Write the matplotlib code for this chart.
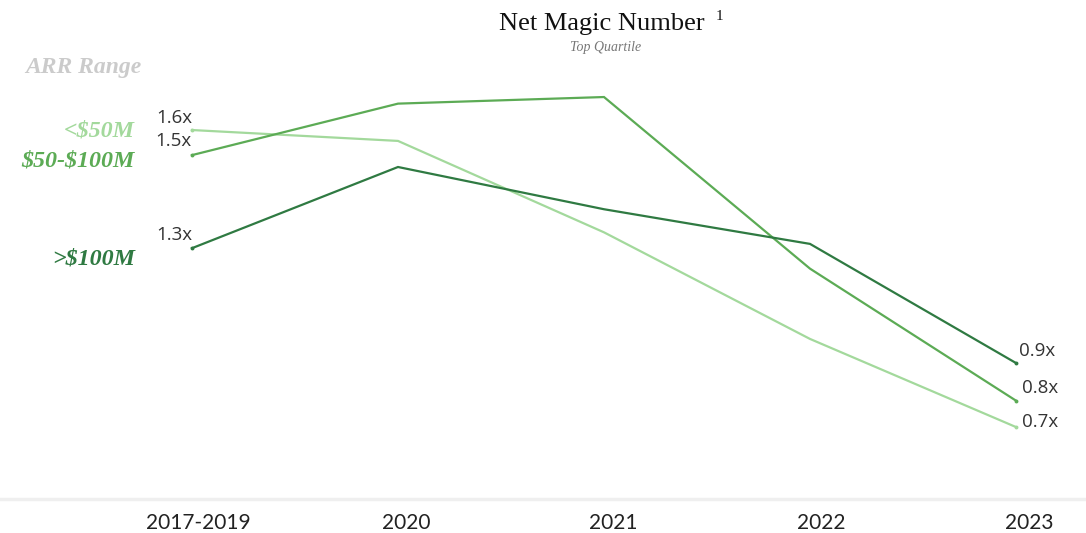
import matplotlib
matplotlib.use("Agg")
import matplotlib.pyplot as plt

# data
years = ["2017-2019", "2020", "2021", "2022", "2023"]
series_names = ["<$50M", "$50-$100M", ">$100M"]
small = [1.60, 1.567, 1.29, 0.967, 0.70]
mid = [1.524, 1.68, 1.70, 1.18, 0.78]
large = [1.242, 1.488, 1.36, 1.255, 0.894]
start_labels = ["1.6x", "1.5x", "1.3x"]
end_labels = ["0.7x", "0.8x", "0.9x"]

colors = ["#a3d99c", "#5cab55", "#2f7a42"]
values = [small, mid, large]
serif = "Liberation Serif"

fig = plt.figure(figsize=(10.86, 5.33), dpi=100)
ax = fig.add_axes([0, 34 / 533, 1, 499 / 533])
x = list(range(len(years)))

for vals, c in zip(values, colors):
    ax.plot(x, vals, color=c, lw=1.6, solid_joinstyle="miter")
    ax.plot([x[0], x[-1]], [vals[0], vals[-1]], "o", color=c, ms=2.8, mec="none")

ax.set_xlim(-192 / 206, 894 / 206)
ax.set_ylim(0.482, 1.994)

for s in ["top", "left", "right"]:
    ax.spines[s].set_visible(False)
ax.spines["bottom"].set_color("#efefef")
ax.spines["bottom"].set_linewidth(2.5)
ax.set_yticks([])
# the year labels sit a little right of the points, as in the original
ax.set_xticks([i * 207.75 / 206 + 6 / 206 for i in x])
ax.set_xticklabels(years, fontsize=15, family="Lato", color="#222222")
ax.tick_params(axis="x", length=0, pad=10)

# series names on the left
name_offsets = [-1, -6, -11]
for name, vals, c, dy in zip(series_names, values, colors, name_offsets):
    ax.annotate(name, (x[0], vals[0]), xytext=(-57, dy), textcoords="offset pixels",
                ha="right", va="center", fontsize=17.3, color=c, family=serif,
                style="italic", weight="bold", parse_math=False)

# start / end value labels
start_off = [12, 14, 13]
for lab, vals, dy in zip(start_labels, values, start_off):
    ax.annotate(lab, (x[0], vals[0]), xytext=(0, dy), textcoords="offset pixels",
                ha="right", va="center", fontsize=13.5, color="#333333", family="Open Sans")
end_off = [(6, 5), (6, 13), (3, 12)]
for lab, vals, (dx, dy) in zip(end_labels, values, end_off):
    ax.annotate(lab, (x[-1], vals[-1]), xytext=(dx, dy), textcoords="offset pixels",
                ha="left", va="center", fontsize=13.5, color="#333333", family="Open Sans")

fig.text(602 / 1086, 1 - 24 / 533, "Net Magic Number", ha="center", va="center",
         fontsize=19, family=serif, color="#111111")
fig.text(716 / 1086, 1 - 17 / 533, "1", ha="left", va="center",
         fontsize=11, family=serif, color="#111111")
fig.text(606 / 1086, 1 - 47 / 533, "Top Quartile", ha="center", va="center",
         fontsize=10, family=serif, style="italic", color="#777777")
fig.text(25 / 1086, 1 - 67 / 533, "ARR Range", ha="left", va="center",
         fontsize=17, family=serif, style="italic", weight="bold", color="#cbcbcb")

fig.savefig("out.png", dpi=100)
